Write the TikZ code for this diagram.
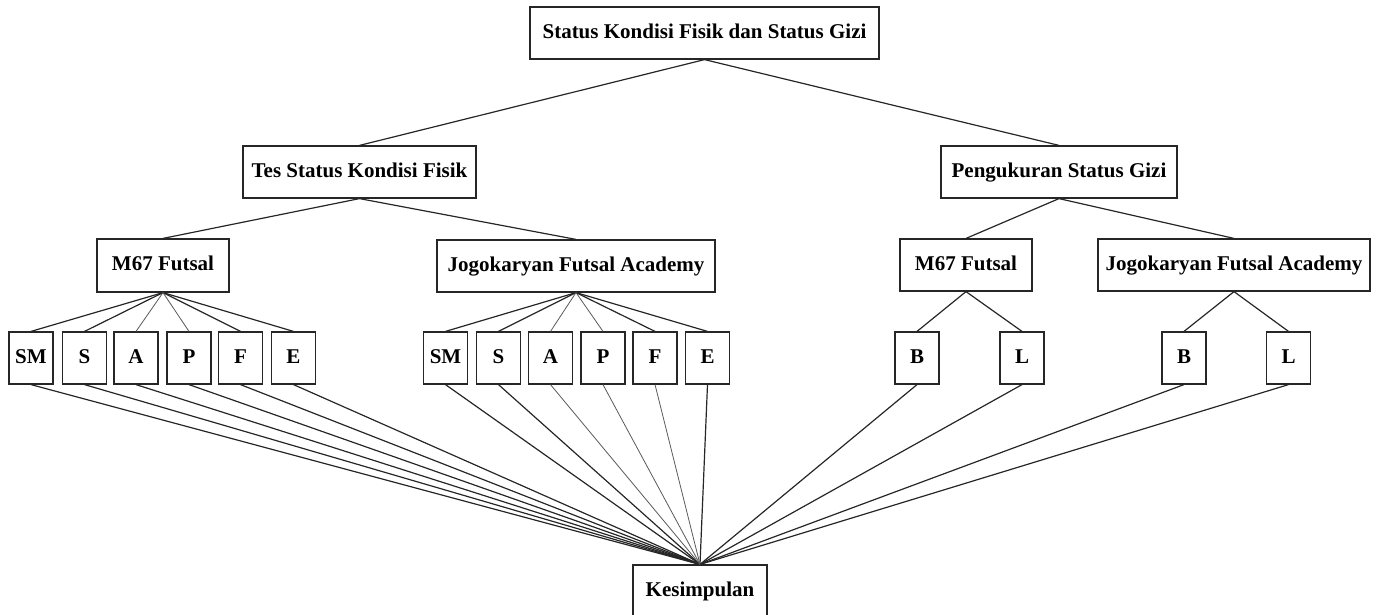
\documentclass[tikz,border=0pt]{standalone}
\usepackage{fontspec}
\setmainfont{Liberation Serif}
\begin{document}
\begin{tikzpicture}[x=1pt,y=-1pt,
  box/.style={draw=black!85,line width=1.2pt,inner sep=0pt,text height=14pt,text depth=4pt,font=\fontsize{21}{24}\selectfont\bfseries},
  sq/.style={box,minimum width=44pt,minimum height=52pt},
  ln/.style={draw=black!85,line width=1.2pt},
  thin/.style={draw=black!65,line width=0.8pt}]
\useasboundingbox (0,0) rectangle (1379,614);
\clip (0,0) rectangle (1379,614);
\node[box,minimum width=349pt,minimum height=52pt] (top) at (704.5,33) {Status Kondisi Fisik dan Status Gizi};
\node[box,minimum width=233pt,minimum height=52pt] (tes) at (359.5,172) {Tes Status Kondisi Fisik};
\node[box,minimum width=236pt,minimum height=52pt] (pg) at (1059,172) {Pengukuran Status Gizi};
\node[box,minimum width=132pt,minimum height=53pt] (ma) at (163,265.5) {M67 Futsal};
\node[box,minimum width=278pt,minimum height=52pt] (ja) at (576,266) {Jogokaryan Futsal Academy};
\node[box,minimum width=132pt,minimum height=52pt] (mb) at (966,265) {M67 Futsal};
\node[box,minimum width=272pt,minimum height=52pt] (jb) at (1234,265) {Jogokaryan Futsal Academy};
\node[box,minimum width=134pt,minimum height=52pt] (kes) at (700,591) {Kesimpulan};
% left small boxes
\node[sq] (a1) at (31,358) {SM};
\node[sq] (a2) at (84.5,358) {S};
\node[sq] (a3) at (136,358) {A};
\node[sq] (a4) at (189,358) {P};
\node[sq] (a5) at (240.5,358) {F};
\node[sq] (a6) at (293.5,358) {E};
\node[sq] (b1) at (445.5,358) {SM};
\node[sq] (b2) at (498.5,358) {S};
\node[sq] (b3) at (550.5,358) {A};
\node[sq] (b4) at (603,358) {P};
\node[sq] (b5) at (655,358) {F};
\node[sq] (b6) at (707.5,358) {E};
\node[sq] (c1) at (917,358) {B};
\node[sq] (c2) at (1022,358) {L};
\node[sq] (d1) at (1184,358) {B};
\node[sq] (d2) at (1288.5,358) {L};
% connectors
\draw[ln] (top.south) -- (tes.north);
\draw[ln] (top.south) -- (pg.north);
\draw[ln] (tes.south) -- (ma.north);
\draw[ln] (tes.south) -- (ja.north);
\draw[ln] (pg.south) -- (mb.north);
\draw[ln] (pg.south) -- (jb.north);
\foreach \n in {a1,a2,a5,a6} \draw[ln] (ma.south) -- (\n.north);
\foreach \n in {a3,a4} \draw[thin] (ma.south) -- (\n.north);
\foreach \n in {b1,b2,b5,b6} \draw[ln] (ja.south) -- (\n.north);
\foreach \n in {b3,b4} \draw[thin] (ja.south) -- (\n.north);
\foreach \n in {c1,c2} \draw[ln] (mb.south) -- (\n.north);
\foreach \n in {d1,d2} \draw[ln] (jb.south) -- (\n.north);
\foreach \n in {a1,a2,a3,a4,a5,a6,b1,b2,b6,c1,c2,d1,d2} \draw[ln] (\n.south) -- (kes.north);
\foreach \n in {b3,b4,b5} \draw[thin] (\n.south) -- (kes.north);
\end{tikzpicture}
\end{document}
